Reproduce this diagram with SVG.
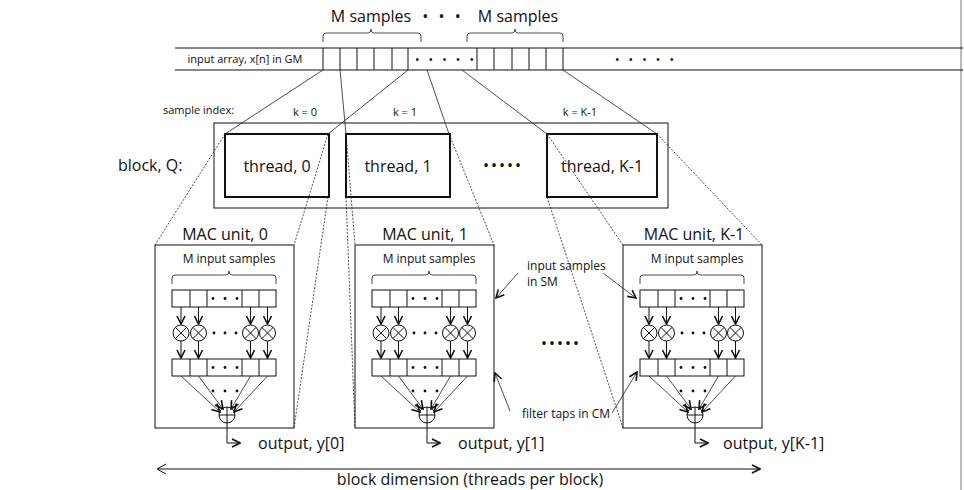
<svg xmlns="http://www.w3.org/2000/svg" xmlns:xlink="http://www.w3.org/1999/xlink" width="964" height="490" viewBox="0 0 964 490">
<style>
text{font-family:"Open Sans","Liberation Sans",sans-serif;fill:#111}
.ln{stroke:#111;stroke-width:1;fill:none}
.thin{stroke:#222;stroke-width:0.8;fill:none}
.dot{stroke:#222;stroke-width:0.8;fill:none;stroke-dasharray:2 1.5}
.thk{stroke:#111;stroke-width:2;fill:#fff}
.s11{font-size:11px}.s12{font-size:12px}.s17{font-size:16px}
</style>
<defs>
<marker id="ah" markerWidth="10" markerHeight="10" refX="9" refY="5" orient="auto" markerUnits="userSpaceOnUse"><path d="M1,1 L9,5 L1,9" fill="none" stroke="#111" stroke-width="1.6"/></marker>
<g id="mac">
<rect x="0" y="245" width="139" height="183" class="ln" fill="#fff"/>
<text x="74" y="263" class="s12" text-anchor="middle">M input samples</text>
<path d="M17,284 v-6 q0,-3 3,-3 h51 q3,0 3,-4 q0,4 3,4 h41 q3,0 3,3 v6" class="thin"/>
<rect x="17" y="290" width="104" height="17" class="ln"/>
<path d="M35,290v17M52,290v17M87,290v17M104,290v17" class="ln"/>
<g fill="#111"><circle cx="58" cy="298.5" r="1.4"/><circle cx="70" cy="298.5" r="1.4"/><circle cx="82" cy="298.5" r="1.4"/>
<circle cx="59" cy="333" r="1.4"/><circle cx="70" cy="333" r="1.4"/><circle cx="81" cy="333" r="1.4"/>
<circle cx="58" cy="367.5" r="1.4"/><circle cx="70" cy="367.5" r="1.4"/><circle cx="82" cy="367.5" r="1.4"/>
<circle cx="58" cy="391" r="1.4"/><circle cx="70" cy="391" r="1.4"/><circle cx="82" cy="391" r="1.4"/></g>
<rect x="17" y="359" width="104" height="17" class="ln"/>
<path d="M35,359v17M52,359v17M87,359v17M104,359v17" class="ln"/>
<g class="ln" marker-end="url(#ah)"><path d="M26,307v17"/><path d="M43.5,307v17"/><path d="M95.5,307v17"/><path d="M112.5,307v17"/>
<path d="M26,341v17"/><path d="M43.5,341v17"/><path d="M95.5,341v17"/><path d="M112.5,341v17"/></g>
<g class="ln"><circle cx="26" cy="333" r="8"/><circle cx="43.5" cy="333" r="8"/><circle cx="95.5" cy="333" r="8"/><circle cx="112.5" cy="333" r="8"/>
<path d="M20.3,327.3l11.4,11.4M31.7,327.3l-11.4,11.4M37.8,327.3l11.4,11.4M49.2,327.3l-11.4,11.4M89.8,327.3l11.4,11.4M101.2,327.3l-11.4,11.4M106.8,327.3l11.4,11.4M118.2,327.3l-11.4,11.4"/>
<circle cx="72" cy="415" r="8"/><path d="M64,415h16M72,407v16"/></g>
<g class="thin" marker-end="url(#ah)"><path d="M26,376L65,412"/><path d="M43.5,376L68,409"/><path d="M95.5,376L76,409"/><path d="M112.5,376L79,412"/></g>
<path d="M72,423v20h13" class="ln" marker-end="url(#ah)"/>
</g>
</defs>
<line x1="961" y1="0" x2="961" y2="490" stroke="#777" stroke-width="1"/>
<g id="input-array">
<path d="M175,48H963M175,70H963" class="ln" stroke="#555"/>
<path d="M323,48v22M340,48v22M357,48v22M374,48v22M392,48v22M408,48v22M477,48v22M494,48v22M512,48v22M529,48v22M546,48v22M563,48v22" class="ln"/>
<text x="245" y="63" class="s11" text-anchor="middle">input array, x[n] in GM</text>
<text x="446" y="64" class="s12" text-anchor="middle" letter-spacing="3">• • • • •</text>
<text x="646" y="64" class="s12" text-anchor="middle" letter-spacing="3">• • • • •</text>
<path d="M323,42v-6q0,-3 3,-3h42q3,0 3,-4q0,4 3,4h44q3,0 3,3v6" class="thin"/>
<path d="M467,42v-6q0,-3 3,-3h42q3,0 3,-4q0,4 3,4h42q3,0 3,3v6" class="thin"/>
<text x="371" y="22" class="s17" text-anchor="middle">M samples</text>
<text x="443" y="22" class="s17" text-anchor="middle" letter-spacing="3">• • •</text>
<text x="518" y="22" class="s17" text-anchor="middle">M samples</text>
</g>
<g id="block-Q">
<text x="163" y="114" class="s11">sample index:</text>
<text x="305" y="116" class="s11" text-anchor="middle">k = 0</text>
<text x="405" y="116" class="s11" text-anchor="middle">k = 1</text>
<text x="580" y="116" class="s11" text-anchor="middle">k = K-1</text>
<text x="118" y="171" class="s17">block, Q:</text>
<rect x="214" y="123" width="454" height="85" class="ln" fill="none"/>
<text x="503" y="171" class="s17" text-anchor="middle" letter-spacing="2">•••••</text>
</g>
<g id="thread-0"><rect x="225" y="134" width="104" height="63" class="thk"/><text x="277" y="172" class="s17" text-anchor="middle">thread, 0</text></g>
<g id="thread-1"><rect x="346" y="134" width="104" height="63" class="thk"/><text x="398" y="172" class="s17" text-anchor="middle">thread, 1</text></g>
<g id="thread-K-1"><rect x="547" y="134" width="110" height="63" class="thk"/><text x="602" y="172" class="s17" text-anchor="middle">thread, K-1</text></g>
<g id="connectors">
<path d="M323,70L225,134M408,70L328,134M340,70L346,134M427,70L449,134M462,70L547,134M563,70L657,134" class="thin"/>
<path d="M225,134L155,245M328,134L294,245M328,197L294,428M346,134L355,245M346,197L355,428M449,134L494,245M547,134L623,245M547,197L623,428M657,134L762,245" class="dot"/>
</g>
<g id="mac-0"><text x="225" y="240" class="s17" text-anchor="middle">MAC unit, 0</text><use xlink:href="#mac" href="#mac" x="155"/><text x="258" y="449" class="s17">output, y[0]</text></g>
<g id="mac-1"><text x="425" y="240" class="s17" text-anchor="middle">MAC unit, 1</text><use xlink:href="#mac" href="#mac" x="355"/><text x="458" y="449" class="s17">output, y[1]</text></g>
<g id="mac-K-1"><text x="694" y="240" class="s17" text-anchor="middle">MAC unit, K-1</text><use xlink:href="#mac" href="#mac" x="623"/><text x="723" y="449" class="s17">output, y[K-1]</text></g>
<text x="561" y="349" class="s17" text-anchor="middle" letter-spacing="2">•••••</text>
<g id="annotations">
<text x="527" y="270" class="s12">input samples</text>
<text x="527" y="286" class="s12">in SM</text>
<text x="522" y="418" class="s12">filter taps in CM</text>
<g class="thin" marker-end="url(#ah)"><path d="M518,273L496,298"/><path d="M603,273L636,298"/><path d="M510,411L495,373"/><path d="M612,413L637,372"/></g>
</g>
<g id="block-dimension">
<path d="M158,469H760" class="ln" marker-end="url(#ah)"/>
<path d="M166,464L157,469L166,474" class="ln"/>
<text x="470" y="485" class="s17" text-anchor="middle">block dimension (threads per block)</text>
</g>
</svg>
